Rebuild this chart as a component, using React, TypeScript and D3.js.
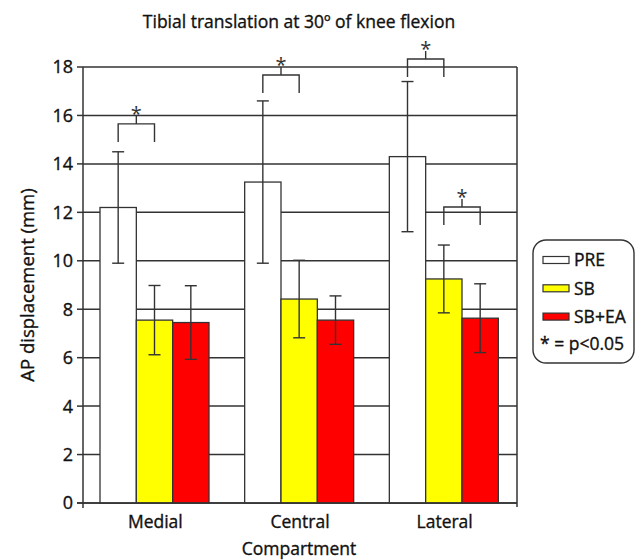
import React from "react";
import * as d3 from "d3";

const title = "Tibial translation at 30º of knee flexion";
const categories = ["Medial", "Central", "Lateral"];
const seriesNames = ["PRE", "SB", "SB+EA"];
const seriesColors = ["#ffffff", "#ffff00", "#ff0000"];
const preValues = [12.2, 13.25, 14.3];
const sbValues = [7.55, 8.42, 9.25];
const sbeaValues = [7.45, 7.55, 7.63];
const preErr = [2.3, 3.35, 3.1];
const sbErr = [1.43, 1.6, 1.4];
const sbeaErr = [1.52, 1.0, 1.42];
const yTicks = [0, 2, 4, 6, 8, 10, 12, 14, 16, 18];
// significance brackets: category index, from series, to series, level (mm)
const bracketCat = [0, 1, 2, 2];
const bracketFrom = [0, 0, 0, 1];
const bracketTo = [1, 1, 1, 2];
const bracketLevel = [15.65, 17.67, 18.33, 12.22];
const yLabel = "AP displacement (mm)";
const xLabel = "Compartment";
const sigLabel = "* = p<0.05";

const W = 638;
const H = 560;
const FONT = "'Open Sans', sans-serif";
const INK = "#333333";
const TXT = "#111111";

export default function App() {
  const left = 83;
  const right = 517;
  const top = 67;
  const bottom = 503;

  const y = d3.scaleLinear().domain([0, 18]).range([bottom, top]);
  const x = d3.scaleBand<string>().domain(categories).range([left, right]);
  const groupOffset = 17;
  const groupWidth = 109;
  const xs = d3
    .scaleBand<string>()
    .domain(seriesNames)
    .range([groupOffset, groupOffset + groupWidth]);

  const values = [preValues, sbValues, sbeaValues];
  const errs = [preErr, sbErr, sbeaErr];
  const capHalf = 6;

  const barCenter = (ci: number, si: number) =>
    (x(categories[ci]) ?? 0) + (xs(seriesNames[si]) ?? 0) + xs.bandwidth() / 2;

  const textStyle = { stroke: TXT, strokeWidth: 0.35 } as const;

  return (
    <div style={{ position: "absolute", left: 0, top: 0 }}>
      <svg width={W} height={H} style={{ display: "block" }} fontFamily={FONT}>
        <rect x={0} y={0} width={W} height={H} fill="#ffffff" />
        <text x={299} y={28} textAnchor="middle" fontSize={17.5} fill={TXT} {...textStyle}>
          {title}
        </text>

        {/* gridlines */}
        {yTicks.map((t) => (
          <line key={"g" + t} x1={left} x2={right} y1={y(t)} y2={y(t)} stroke={INK} strokeWidth={1.5} />
        ))}
        {/* y ticks & labels */}
        {yTicks.map((t) => (
          <g key={"t" + t}>
            <line x1={left - 6} x2={left} y1={y(t)} y2={y(t)} stroke={INK} strokeWidth={1.5} />
            <text x={left - 10} y={y(t)} dy="0.36em" textAnchor="end" fontSize={18} fill={TXT} {...textStyle}>
              {t}
            </text>
          </g>
        ))}

        {/* bars */}
        {categories.map((c, ci) =>
          seriesNames.map((s, si) => (
            <rect
              key={c + s}
              x={(x(c) ?? 0) + (xs(s) ?? 0)}
              y={y(values[si][ci])}
              width={xs.bandwidth()}
              height={y(0) - y(values[si][ci])}
              fill={seriesColors[si]}
              stroke={INK}
              strokeWidth={1.3}
            />
          ))
        )}

        {/* error bars */}
        {categories.map((c, ci) =>
          seriesNames.map((s, si) => {
            const cx = barCenter(ci, si);
            const hi = y(values[si][ci] + errs[si][ci]);
            const lo = y(values[si][ci] - errs[si][ci]);
            return (
              <g key={"e" + c + s} stroke={INK} strokeWidth={1.4}>
                <line x1={cx} x2={cx} y1={hi} y2={lo} />
                <line x1={cx - capHalf} x2={cx + capHalf} y1={hi} y2={hi} />
                <line x1={cx - capHalf} x2={cx + capHalf} y1={lo} y2={lo} />
              </g>
            );
          })
        )}

        {/* axes frame */}
        <line x1={left} x2={left} y1={top} y2={bottom + 5} stroke={INK} strokeWidth={1.5} />
        <line x1={right} x2={right} y1={top} y2={bottom + 4} stroke={INK} strokeWidth={1.5} />
        <line x1={left - 6} x2={right} y1={bottom} y2={bottom} stroke={INK} strokeWidth={1.6} />

        {/* significance brackets */}
        {bracketLevel.map((lv, i) => {
          const x1 = barCenter(bracketCat[i], bracketFrom[i]);
          const x2 = barCenter(bracketCat[i], bracketTo[i]);
          const yy = y(lv);
          const mid = (x1 + x2) / 2;
          return (
            <g key={"b" + i}>
              <path
                d={`M${x1},${yy + 18}V${yy}H${x2}V${yy + 18}M${mid},${yy}V${yy - 8}`}
                fill="none"
                stroke={INK}
                strokeWidth={1.4}
              />
              <text x={mid} y={yy - 3} textAnchor="middle" fontSize={20} fill="#333">
                *
              </text>
            </g>
          );
        })}

        {/* x labels */}
        {categories.map((c) => (
          <text
            key={"x" + c}
            x={(x(c) ?? 0) + x.bandwidth() / 2}
            y={528}
            textAnchor="middle"
            fontSize={17.5}
            fill={TXT}
            {...textStyle}
          >
            {c}
          </text>
        ))}
        <text x={299} y={555} textAnchor="middle" fontSize={17.5} fill={TXT} {...textStyle}>
          {xLabel}
        </text>
        <text
          transform={`translate(34,${285}) rotate(-90)`}
          textAnchor="middle"
          fontSize={18.5}
          fill={TXT}
          {...textStyle}
        >
          {yLabel}
        </text>

        {/* legend */}
        <g>
          <rect x={533} y={240} width={101} height={123} rx={13} fill="#ffffff" stroke={INK} strokeWidth={1.4} />
          {seriesNames.map((s, i) => {
            const cy = 260 + i * 28.3;
            return (
              <g key={"l" + s}>
                <rect x={543} y={cy - 3.5} width={26} height={7} fill={seriesColors[i]} stroke={INK} strokeWidth={1.2} />
                <text x={574} y={cy} dy="0.36em" fontSize={17.5} fill={TXT} {...textStyle}>
                  {s}
                </text>
              </g>
            );
          })}
          <text x={540} y={344} dy="0.36em" fontSize={17.5} fill={TXT} {...textStyle}>
            {sigLabel}
          </text>
        </g>
      </svg>
    </div>
  );
}
